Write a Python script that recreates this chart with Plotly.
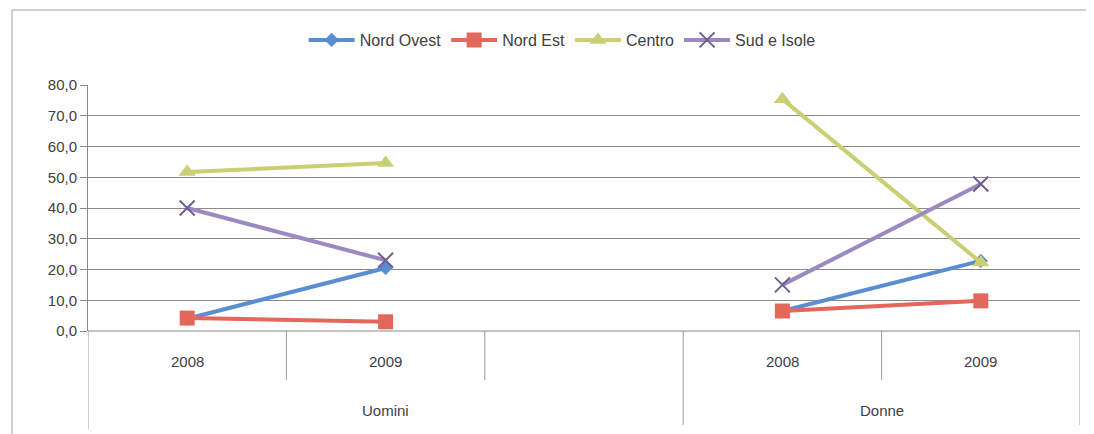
import plotly.graph_objects as go

groups = ["Uomini", "Uomini", "Uomini", "Donne", "Donne"]
years = ["2008", "2009", "", "2008", "2009"]
x_pos = [0, 1, 2, 3, 4]

nord_ovest = [4.0, 20.5, None, 6.5, 22.8]
nord_est = [4.2, 3.0, None, 6.5, 9.8]
centro = [51.7, 54.6, None, 75.4, 22.3]
sud_isole = [40.0, 23.0, None, 15.0, 47.8]

series = [
    ("Nord Ovest", nord_ovest, "#5A8ED2", dict(symbol="diamond", size=11)),
    ("Nord Est", nord_est, "#E4675C", dict(symbol="square", size=15)),
    ("Centro", centro, "#C9CF72", dict(symbol="triangle-up", size=15)),
    ("Sud e Isole", sud_isole, "#9C89C2", dict(symbol="x-thin", size=15,
                                              line=dict(width=2, color="#6E5E92"))),
]

fig = go.Figure()
for name, vals, col, mk in series:
    m = dict(color=col, **mk)
    fig.add_trace(go.Scatter(
        x=x_pos, y=vals, name=name, mode="lines+markers",
        line=dict(color=col, width=4), marker=m, connectgaps=False,
    ))

font = "Liberation Sans, Arial, sans-serif"
fig.update_layout(
    width=1086, height=426,
    margin=dict(l=80, r=14, t=77, b=103),
    paper_bgcolor="white", plot_bgcolor="white",
    font=dict(family=font, size=14, color="#404040"),
    separators=",.",
    legend=dict(orientation="h", x=0.478, xanchor="center", y=1.183, yanchor="middle",
                itemwidth=46, font=dict(size=16, color="#404040"),
                bgcolor="rgba(0,0,0,0)"),
    xaxis=dict(range=[-0.5, 4.5], showgrid=False, showticklabels=False, zeroline=False,
               fixedrange=True),
    yaxis=dict(range=[0, 80], dtick=10, tickformat=".1f", showgrid=True,
               gridcolor="#8a8a8a", gridwidth=1, zeroline=False, showline=True,
               linecolor="#8a8a8a", linewidth=1, ticks="outside", ticklen=7,
               tickcolor="#8a8a8a", tickfont=dict(size=15, color="#404040")),
)

line_col = "#9a9a9a"
shapes = []
for xb, y0 in [(-0.5, -0.40), (0.5, -0.199), (1.5, -0.199), (2.5, -0.382), (3.5, -0.199), (4.5, -0.382)]:
    shapes.append(dict(type="line", xref="x", yref="paper", x0=xb, x1=xb, y0=0, y1=y0,
                       line=dict(color=line_col, width=1)))
shapes.append(dict(type="line", xref="paper", yref="paper", x0=0, x1=1, y0=0, y1=0,
                   line=dict(color="#8a8a8a", width=1)))
shapes.append(dict(type="line", xref="paper", yref="paper", x0=-0.0766, x1=-0.0766,
                   y0=-0.42, y1=1.305, line=dict(color="#a0a0a0", width=1)))
shapes.append(dict(type="line", xref="paper", yref="paper", x0=-0.0766, x1=1.02,
                   y0=1.305, y1=1.305, line=dict(color="#a0a0a0", width=1)))
fig.update_layout(shapes=shapes)

annotations = []
for xp, yr in zip(x_pos, years):
    if yr:
        annotations.append(dict(x=xp, y=-0.126, xref="x", yref="paper", text=yr,
                                yanchor="middle", showarrow=False,
                                font=dict(size=15, color="#404040")))
seen = {}
for xp, g in zip(x_pos, groups):
    seen.setdefault(g, []).append(xp)
for g, xs in seen.items():
    annotations.append(dict(x=(min(xs) + max(xs)) / 2, y=-0.325, xref="x", yref="paper",
                            text=g, yanchor="middle", showarrow=False,
                            font=dict(size=15, color="#404040")))
fig.update_layout(annotations=annotations)

fig.write_html("out.html")
